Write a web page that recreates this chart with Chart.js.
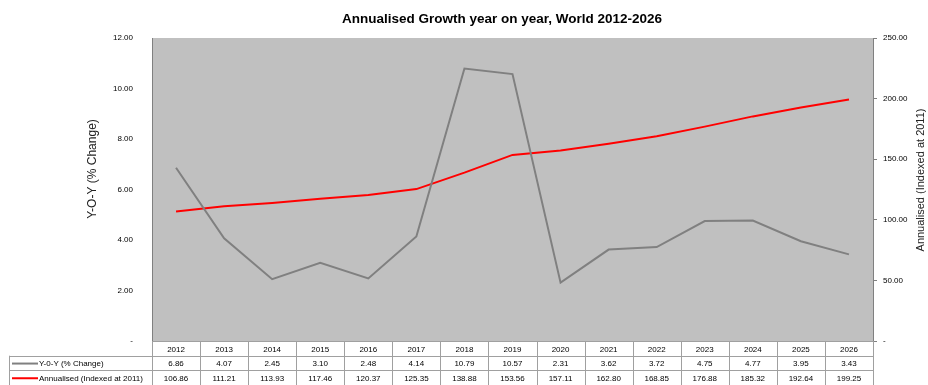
<!DOCTYPE html>
<html lang="en">
<head>
  <meta charset="UTF-8" />
  <title>Annualised Growth year on year, World 2012-2026</title>
  <script src="https://cdn.jsdelivr.net/npm/chart.js"></script>
  <style>
    body {
      margin: 0;
      background: #fff;
      font-family: Arial, "Liberation Sans", sans-serif;
    }
    .wrap {
      width: 928px;
      height: 385px;
      position: relative;
    }
  </style>
</head>
<body>
  <div class="wrap">
    <canvas id="growthChart"></canvas>
  </div>

  <script>
    const years = ['2012', '2013', '2014', '2015', '2016', '2017', '2018', '2019', '2020', '2021', '2022', '2023', '2024', '2025', '2026'];
    const yoyChange = [6.86, 4.07, 2.45, 3.10, 2.48, 4.14, 10.79, 10.57, 2.31, 3.62, 3.72, 4.75, 4.77, 3.95, 3.43];
    const annualised = [106.86, 111.21, 113.93, 117.46, 120.37, 125.35, 138.88, 153.56, 157.11, 162.80, 168.85, 176.88, 185.32, 192.64, 199.25];
    const yoyLabel = 'Y-0-Y (% Change)';
    const annualLabel = 'Annualised (Indexed at 2011)';

    const FONT = 'Arial, "Liberation Sans", sans-serif';
    const GREY = '#808080';
    const RED = '#ff0000';

    const fmt = v => v === 0 ? '-' : v.toFixed(2);

    // title, rotated axis titles and the data table under the plot
    const extras = {
      id: 'extras',
      beforeDraw(chart) {
        const { ctx, chartArea: a } = chart;
        ctx.save();
        ctx.fillStyle = '#c0c0c0';
        ctx.fillRect(a.left, a.top, a.right - a.left, a.bottom - a.top);
        ctx.restore();
      },
      afterDraw(chart) {
        const { ctx, chartArea: a } = chart;
        const x = chart.scales.x;
        const colW = (a.right - a.left) / years.length;
        ctx.save();

        // chart title
        ctx.fillStyle = '#000';
        ctx.font = 'bold 13.5px ' + FONT;
        ctx.textAlign = 'center';
        ctx.textBaseline = 'middle';
        ctx.fillText('Annualised Growth year on year, World 2012-2026', 502, 19);

        // axis titles
        ctx.font = '12px ' + FONT;
        ctx.fillStyle = '#222';
        ctx.translate(93, 169);
        ctx.rotate(-Math.PI / 2);
        ctx.fillText('Y-O-Y (% Change)', 0, 0);
        ctx.setTransform(1, 0, 0, 1, 0, 0);
        ctx.font = '11px ' + FONT;
        ctx.translate(921, 180);
        ctx.rotate(-Math.PI / 2);
        ctx.fillText('Annualised (Indexed at 2011)', 0, 0);
        ctx.setTransform(1, 0, 0, 1, 0, 0);

        // data table
        const top = a.bottom;
        const rowH = 14.7;
        const legendLeft = 9;
        ctx.strokeStyle = '#a0a0a0';
        ctx.lineWidth = 1;
        ctx.beginPath();
        for (let r = 0; r <= 3; r++) {
          const y = Math.round(top + r * rowH) + 0.5;
          const x0 = r === 0 ? a.left : legendLeft;
          ctx.moveTo(x0, y);
          ctx.lineTo(a.right, y);
        }
        for (let c = 0; c <= years.length; c++) {
          const xx = Math.round(a.left + c * colW) + 0.5;
          ctx.moveTo(xx, top);
          ctx.lineTo(xx, top + 3 * rowH);
        }
        ctx.moveTo(legendLeft + 0.5, top + rowH);
        ctx.lineTo(legendLeft + 0.5, top + 3 * rowH);
        ctx.stroke();

        ctx.font = '8px ' + FONT;
        ctx.fillStyle = '#000';
        ctx.textAlign = 'center';
        years.forEach((yr, i) => {
          const cx = x.getPixelForValue(i);
          ctx.fillText(yr, cx, top + rowH * 0.5 + 1);
          ctx.fillText(yoyChange[i].toFixed(2), cx, top + rowH * 1.5 + 1);
          ctx.fillText(annualised[i].toFixed(2), cx, top + rowH * 2.5 + 1);
        });

        // legend keys in the table's first column
        const keys = [[yoyLabel, GREY], [annualLabel, RED]];
        keys.forEach(([label, color], k) => {
          const cy = top + rowH * (1.5 + k) + 0.5;
          ctx.strokeStyle = color;
          ctx.lineWidth = 2;
          ctx.beginPath();
          ctx.moveTo(12, cy);
          ctx.lineTo(38, cy);
          ctx.stroke();
          ctx.textAlign = 'left';
          ctx.fillText(label, 39, cy + 0.5);
        });
        ctx.restore();
      }
    };

    new Chart(document.getElementById('growthChart'), {
      type: 'line',
      data: {
        labels: years,
        datasets: [
          {
            label: yoyLabel,
            data: yoyChange,
            yAxisID: 'y',
            borderColor: GREY,
            borderWidth: 2,
            pointRadius: 0,
            tension: 0
          },
          {
            label: annualLabel,
            data: annualised,
            yAxisID: 'y1',
            borderColor: RED,
            borderWidth: 2,
            pointRadius: 0,
            tension: 0
          }
        ]
      },
      options: {
        responsive: true,
        maintainAspectRatio: false,
        animation: false,
        layout: { padding: { top: 38, bottom: 44, left: 0, right: 0 } },
        plugins: {
          legend: { display: false },
          tooltip: { enabled: false }
        },
        scales: {
          x: {
            type: 'category',
            display: false,
            offset: true
          },
          y: {
            position: 'left',
            min: 0,
            max: 12,
            afterFit: s => { s.width = 152; },
            ticks: {
              stepSize: 2,
              padding: 11,
              color: '#000',
              font: { family: FONT, size: 8 },
              callback: fmt
            },
            grid: { display: false },
            border: { display: true, color: GREY, width: 1 }
          },
          y1: {
            position: 'right',
            min: 0,
            max: 250,
            afterFit: s => { s.width = 55; },
            ticks: {
              stepSize: 50,
              padding: 6,
              color: '#000',
              font: { family: FONT, size: 8 },
              callback: fmt
            },
            grid: {
              display: true,
              drawOnChartArea: false,
              drawTicks: true,
              tickLength: 4,
              color: GREY
            },
            border: { display: true, color: GREY, width: 1 }
          }
        }
      },
      plugins: [extras]
    });
  </script>
</body>
</html>
